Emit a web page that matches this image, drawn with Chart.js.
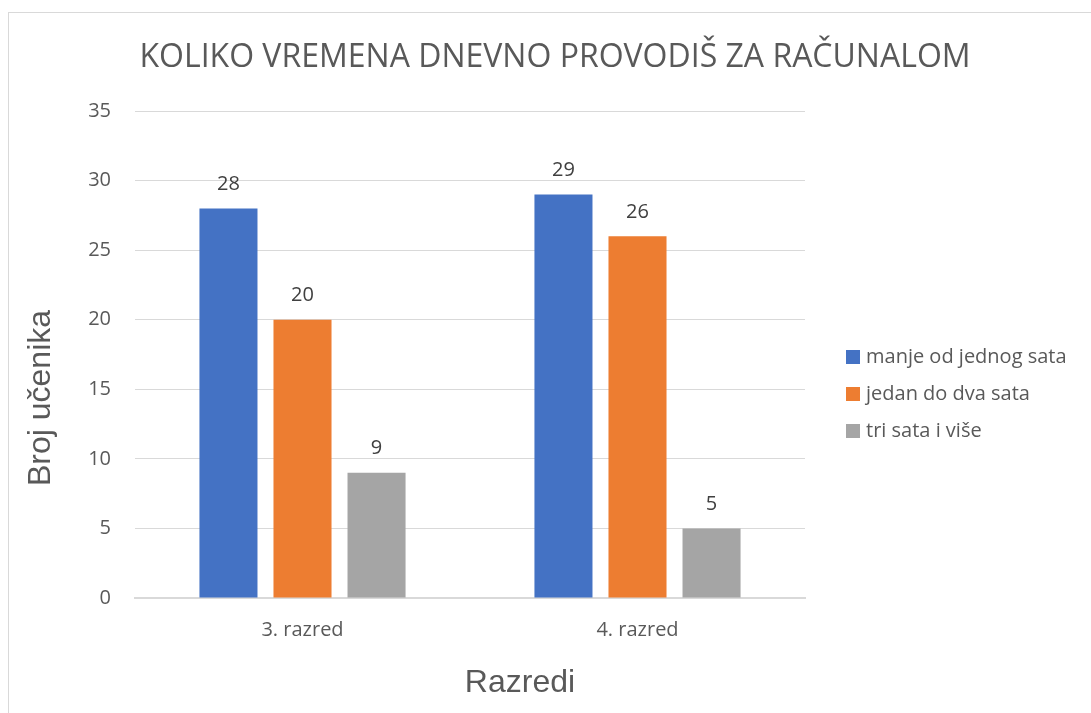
<!DOCTYPE html>
<html>
<head>
<meta charset="utf-8">
<script src="https://cdn.jsdelivr.net/npm/chart.js@4"></script>
<style>
  html, body { margin: 0; padding: 0; background: #ffffff; }
  #frame { position: absolute; left: 8px; top: 12px; width: 1100px; height: 720px; border: 1px solid #d9d9d9; box-sizing: border-box; }
  #wrap { position: absolute; left: 0; top: 0; width: 1091px; height: 713px; }
</style>
</head>
<body>
<div id="frame"></div>
<div id="wrap"><canvas id="chart"></canvas></div>
<script>
// Datos del gráfico
const categories = ['3. razred', '4. razred'];
const seriesNames = ['manje od jednog sata', 'jedan do dva sata', 'tri sata i više'];
const seriesManje = [28, 29];
const seriesJedan = [20, 26];
const seriesTri = [9, 5];
const seriesColors = ['#4472C4', '#ED7D31', '#A5A5A5'];

const chartTitle = 'KOLIKO VREMENA DNEVNO PROVODIŠ ZA RAČUNALOM';
const yTitle = 'Broj učenika';
const xTitle = 'Razredi';

const FONT = '"Open Sans", sans-serif';
const AXIS_FONT = '"Liberation Sans", Arial, sans-serif';

// Etiquetas de valor encima de cada barra
const valueLabels = {
    id: 'valueLabels',
    afterDatasetsDraw(chart) {
        const ctx = chart.ctx;
        ctx.save();
        ctx.font = `20px ${FONT}`;
        ctx.fillStyle = '#404040';
        ctx.textAlign = 'center';
        ctx.textBaseline = 'middle';
        chart.data.datasets.forEach((ds, i) => {
            chart.getDatasetMeta(i).data.forEach((bar, j) => {
                ctx.fillText(ds.data[j], bar.x, bar.y - 24);
            });
        });
        ctx.restore();
    }
};

// Título, leyenda a la derecha y títulos de ejes
const sideDecor = {
    id: 'sideDecor',
    afterDraw(chart) {
        const ctx = chart.ctx;
        ctx.save();
        ctx.textBaseline = 'middle';

        ctx.font = `32px ${FONT}`;
        ctx.fillStyle = '#595959';
        ctx.textAlign = 'center';
        ctx.fillText(chartTitle, 555, 58);

        ctx.font = `20px ${FONT}`;
        ctx.textAlign = 'left';
        chart.data.datasets.forEach((ds, i) => {
            const y = 357 + i * 37;
            ctx.fillStyle = ds.backgroundColor;
            ctx.fillRect(846, y - 7, 14, 14);
            ctx.fillStyle = '#595959';
            ctx.fillText(ds.label, 866, y);
        });

        ctx.font = `32px ${AXIS_FONT}`;
        ctx.fillStyle = '#595959';
        ctx.textAlign = 'center';
        ctx.fillText(xTitle, 520, 683);

        ctx.translate(41, 398);
        ctx.rotate(-Math.PI / 2);
        ctx.fillText(yTitle, 0, 0);
        ctx.restore();
    }
};

const datasets = [seriesManje, seriesJedan, seriesTri].map((vals, i) => ({
    label: seriesNames[i],
    data: vals,
    backgroundColor: seriesColors[i],
    borderWidth: 0,
    categoryPercentage: 0.663,
    barPercentage: 0.784
}));

new Chart(document.getElementById('chart'), {
    type: 'bar',
    data: { labels: categories, datasets },
    plugins: [valueLabels, sideDecor],
    options: {
        responsive: true,
        maintainAspectRatio: false,
        animation: false,
        layout: { padding: { top: 111, right: 286, bottom: 0, left: 0 } },
        plugins: {
            legend: { display: false },
            tooltip: { enabled: false },
            title: { display: false }
        },
        scales: {
            x: {
                grid: { display: false, drawTicks: false },
                border: { color: '#d9d9d9', width: 2 },
                ticks: { color: '#595959', font: { family: FONT, size: 20 }, padding: 20 },
                afterFit: (scale) => { scale.height = 115; }
            },
            y: {
                min: 0,
                max: 35,
                grid: { color: '#d9d9d9', drawTicks: false },
                border: { display: false },
                ticks: { stepSize: 5, color: '#595959', font: { family: FONT, size: 20 }, padding: 24 },
                afterFit: (scale) => { scale.width = 135; }
            }
        }
    }
});
</script>
</body>
</html>
